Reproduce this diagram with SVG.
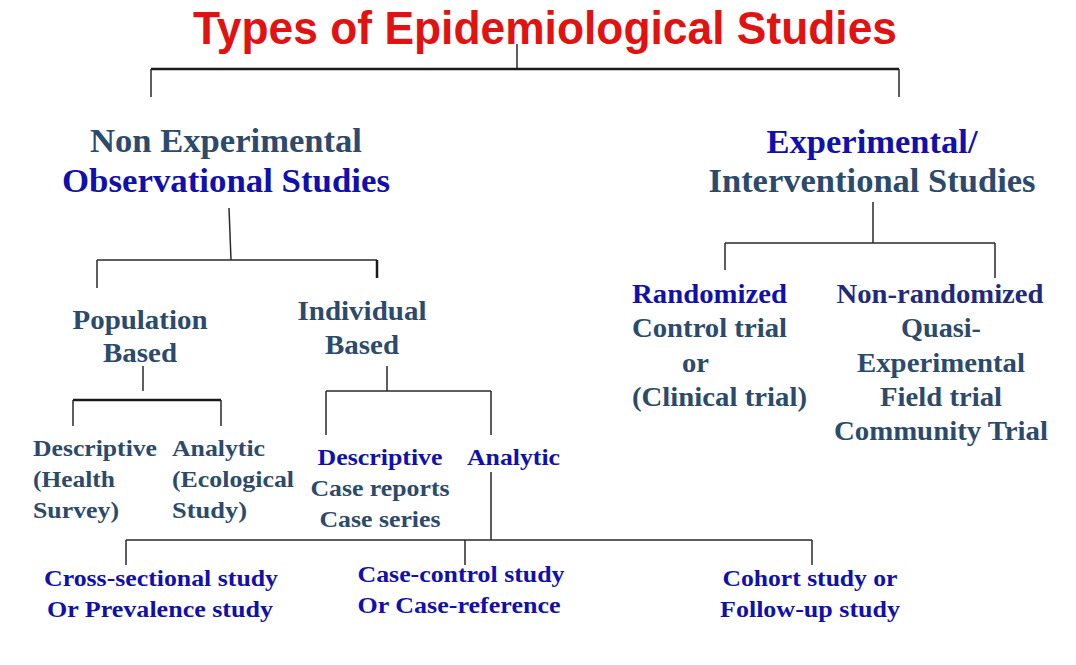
<svg xmlns="http://www.w3.org/2000/svg" width="1076" height="665" viewBox="0 0 1076 665">
<style>
.t{font-family:"Liberation Serif","Times New Roman",serif;font-weight:bold}
.slate{fill:#2c4a6c}
.blue{fill:#1010ac}
.navy{fill:#1f2a7c}
.h1{font-size:34px}
.h2{font-size:28px}
.h3{font-size:23px}
.h4{font-size:24px}
.ln{stroke:#2a2a2a;stroke-width:1.5;fill:none}
.thick{stroke:#1a1a1a;stroke-width:2.5;fill:none}
</style>
<rect width="1076" height="665" fill="#ffffff"/>
<g id="title">
<text x="545" y="44" text-anchor="middle" textLength="704" lengthAdjust="spacingAndGlyphs" font-family="'Liberation Sans',Arial,sans-serif" font-weight="bold" font-size="46" fill="#e01212">Types of Epidemiological Studies</text>
</g>
<g id="connectors">
<path class="ln" d="M517 44V69"/>
<path class="thick" d="M151 69H899"/>
<path class="ln" d="M151 69V97M899 69V97"/>
<path class="ln" d="M229 208L231 260M97 260H377M97 260V288"/>
<path class="thick" d="M377 260V278"/>
<path class="ln" d="M873 202V243M725 243H995M725 243V270M995 243V278"/>
<path class="ln" d="M143 366V391"/>
<path class="thick" d="M73 400H221"/>
<path class="ln" d="M73 400V426M221 400V426"/>
<path class="ln" d="M387 366V391M326 391H491M326 391V435M491 391V435"/>
<path class="ln" d="M491 472V540M126 540H812M126 540V565M465 540V565M812 540V565"/>
</g>
<g id="non-experimental">
<text class="t h1 slate" x="226" y="152" text-anchor="middle" textLength="272" lengthAdjust="spacingAndGlyphs">Non Experimental</text>
<text class="t h1 blue" x="226" y="192" text-anchor="middle" textLength="328" lengthAdjust="spacingAndGlyphs">Observational Studies</text>
</g>
<g id="experimental">
<text class="t h1 blue" x="872" y="153" text-anchor="middle" textLength="211" lengthAdjust="spacingAndGlyphs">Experimental/</text>
<text class="t h1 slate" x="872" y="192" text-anchor="middle" textLength="327" lengthAdjust="spacingAndGlyphs">Interventional Studies</text>
</g>
<g id="population-based">
<text class="t h2 slate" x="140" y="329" text-anchor="middle" textLength="135" lengthAdjust="spacingAndGlyphs">Population</text>
<text class="t h2 slate" x="140" y="362" text-anchor="middle" textLength="74" lengthAdjust="spacingAndGlyphs">Based</text>
</g>
<g id="individual-based">
<text class="t h2 slate" x="362" y="320" text-anchor="middle" textLength="129" lengthAdjust="spacingAndGlyphs">Individual</text>
<text class="t h2 slate" x="362" y="354" text-anchor="middle" textLength="74" lengthAdjust="spacingAndGlyphs">Based</text>
</g>
<g id="randomized">
<text class="t h2 blue" x="632" y="303" textLength="155" lengthAdjust="spacingAndGlyphs">Randomized</text>
<text class="t h2 slate" x="632" y="337" textLength="155" lengthAdjust="spacingAndGlyphs">Control trial</text>
<text class="t h2 slate" x="682" y="372" textLength="27" lengthAdjust="spacingAndGlyphs">or</text>
<text class="t h2 slate" x="632" y="406" textLength="175" lengthAdjust="spacingAndGlyphs">(Clinical trial)</text>
</g>
<g id="non-randomized">
<text class="t h2 navy" x="940" y="303" text-anchor="middle" textLength="207" lengthAdjust="spacingAndGlyphs">Non-randomized</text>
<text class="t h2 slate" x="941" y="337" text-anchor="middle" textLength="80" lengthAdjust="spacingAndGlyphs">Quasi-</text>
<text class="t h2 slate" x="941" y="372" text-anchor="middle" textLength="168" lengthAdjust="spacingAndGlyphs">Experimental</text>
<text class="t h2 slate" x="941" y="406" text-anchor="middle" textLength="122" lengthAdjust="spacingAndGlyphs">Field trial</text>
<text class="t h2 slate" x="941" y="440" text-anchor="middle" textLength="214" lengthAdjust="spacingAndGlyphs">Community Trial</text>
</g>
<g id="pop-descriptive">
<text class="t h3 slate" x="33" y="456" textLength="124" lengthAdjust="spacingAndGlyphs">Descriptive</text>
<text class="t h3 slate" x="33" y="487" textLength="82" lengthAdjust="spacingAndGlyphs">(Health</text>
<text class="t h3 slate" x="33" y="518" textLength="86" lengthAdjust="spacingAndGlyphs">Survey)</text>
</g>
<g id="pop-analytic">
<text class="t h3 slate" x="172" y="456" textLength="93" lengthAdjust="spacingAndGlyphs">Analytic</text>
<text class="t h3 slate" x="172" y="487" textLength="122" lengthAdjust="spacingAndGlyphs">(Ecological</text>
<text class="t h3 slate" x="172" y="518" textLength="75" lengthAdjust="spacingAndGlyphs">Study)</text>
</g>
<g id="ind-descriptive">
<text class="t h3 blue" x="380" y="465" text-anchor="middle" textLength="125" lengthAdjust="spacingAndGlyphs">Descriptive</text>
<text class="t h3 slate" x="380" y="496" text-anchor="middle" textLength="139" lengthAdjust="spacingAndGlyphs">Case reports</text>
<text class="t h3 slate" x="380" y="527" text-anchor="middle" textLength="121" lengthAdjust="spacingAndGlyphs">Case series</text>
</g>
<g id="ind-analytic">
<text class="t h3 blue" x="467" y="465" textLength="93" lengthAdjust="spacingAndGlyphs">Analytic</text>
</g>
<g id="cross-sectional">
<text class="t h4 blue" x="161" y="586" text-anchor="middle" textLength="234" lengthAdjust="spacingAndGlyphs">Cross-sectional study</text>
<text class="t h4 blue" x="160" y="617" text-anchor="middle" textLength="226" lengthAdjust="spacingAndGlyphs">Or Prevalence study</text>
</g>
<g id="case-control">
<text class="t h4 blue" x="461" y="582" text-anchor="middle" textLength="207" lengthAdjust="spacingAndGlyphs">Case-control study</text>
<text class="t h4 blue" x="459" y="613" text-anchor="middle" textLength="203" lengthAdjust="spacingAndGlyphs">Or Case-reference</text>
</g>
<g id="cohort">
<text class="t h4 blue" x="810" y="586" text-anchor="middle" textLength="175" lengthAdjust="spacingAndGlyphs">Cohort study or</text>
<text class="t h4 blue" x="810" y="617" text-anchor="middle" textLength="180" lengthAdjust="spacingAndGlyphs">Follow-up study</text>
</g>
</svg>
